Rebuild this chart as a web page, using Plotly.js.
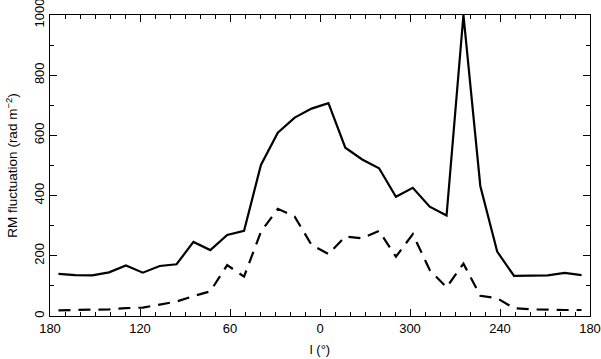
<!DOCTYPE html>
<html>
<head>
<meta charset="utf-8">
<script src="https://cdn.plot.ly/plotly-3.0.1.min.js"></script>
<style>
  html, body { margin: 0; padding: 0; background: #fff; }
  #chart { width: 601px; height: 359px; }
</style>
</head>
<body>
<div id="chart"></div>
<script>
// galactic longitude of each bin centre (deg)
const longitude = [
  174.375, 163.125, 151.875, 140.625, 129.375, 118.125, 106.875, 95.625,
  84.375, 73.125, 61.875, 50.625, 39.375, 28.125, 16.875, 5.625,
  354.375, 343.125, 331.875, 320.625, 309.375, 298.125, 286.875, 275.625,
  264.375, 253.125, 241.875, 230.625, 219.375, 208.125, 196.875, 185.625
];

// RM fluctuation (rad m^-2)
const rmSolid = [
  140, 136, 135, 145, 168, 144, 166, 172,
  246, 219, 269, 283, 502, 609, 659, 689,
  707, 559, 520, 491, 396, 426, 363, 334,
  1000, 432, 214, 133, 134, 135, 143, 136
];
const rmDashed = [
  19, 20, 20, 22, 26, 28, 38, 48,
  66, 82, 169, 131, 280, 356, 330, 236,
  206, 264, 258, 283, 197, 272, 153, 95,
  174, 67, 59, 26, 22, 20, 20, 20
];

const tickPos = [0, 60, 120, 180, 240, 300, 360];
const tickText = ['180', '120', '60', '0', '300', '240', '180'];

// plot runs from l=180 leftwards through 0 to 180 again
const toAxis = l => (180 - l + 360) % 360;
const xs = longitude.map(toAxis);

const FONT = 'Liberation Sans, Arial, sans-serif';

const data = [
  {
    type: 'scatter',
    mode: 'lines',
    x: xs,
    y: rmSolid,
    cliponaxis: false,
    line: { color: '#000', width: 2.2, dash: 'solid' },
    hoverinfo: 'x+y',
  },
  {
    type: 'scatter',
    mode: 'lines',
    x: xs,
    y: rmDashed,
    cliponaxis: false,
    line: { color: '#000', width: 2.2, dash: '12px,8px' },
    hoverinfo: 'x+y',
  },
];

const layout = {
  width: 601,
  height: 359,
  margin: { l: 50, r: 11, t: 15, b: 43 },
  paper_bgcolor: '#fff',
  plot_bgcolor: '#fff',
  showlegend: false,
  font: { family: FONT, size: 13, color: '#000' },
  xaxis: {
    range: [0, 360],
    tickmode: 'array',
    tickvals: tickPos,
    ticktext: tickText,
    ticks: 'inside',
    ticklen: 7,
    tickwidth: 1.3,
    tickcolor: '#000',
    minor: { dtick: 10, tick0: 0, ticks: 'inside', ticklen: 4, tickwidth: 1.2, tickcolor: '#000' },
    showgrid: false,
    zeroline: false,
    showline: true,
    linecolor: '#000',
    linewidth: 1.4,
    mirror: 'allticks',
    ticklabeloverflow: 'allow',
    tickfont: { size: 13 },
    title: { text: 'l (°)', font: { size: 13 }, standoff: 10 },
  },
  yaxis: {
    range: [0, 1000],
    tickmode: 'array',
    tickvals: [0, 200, 400, 600, 800, 1000],
    ticktext: ['0', '200', '400', '600', '800', '1000'],
    ticks: 'inside',
    ticklen: 7,
    tickwidth: 1.3,
    tickcolor: '#000',
    minor: { dtick: 100, tick0: 0, ticks: 'inside', ticklen: 4, tickwidth: 1.2, tickcolor: '#000' },
    showgrid: false,
    zeroline: false,
    showline: true,
    linecolor: '#000',
    linewidth: 1.4,
    mirror: 'allticks',
    ticklabeloverflow: 'allow',
    tickangle: -90,
    tickfont: { size: 13 },
    title: { text: 'RM fluctuation (rad m<sup>−2</sup>)', font: { size: 13.5 }, standoff: 10 },
  },
};

const config = { displayModeBar: false, responsive: false };

Plotly.newPlot('chart', data, layout, config);
</script>
</body>
</html>
